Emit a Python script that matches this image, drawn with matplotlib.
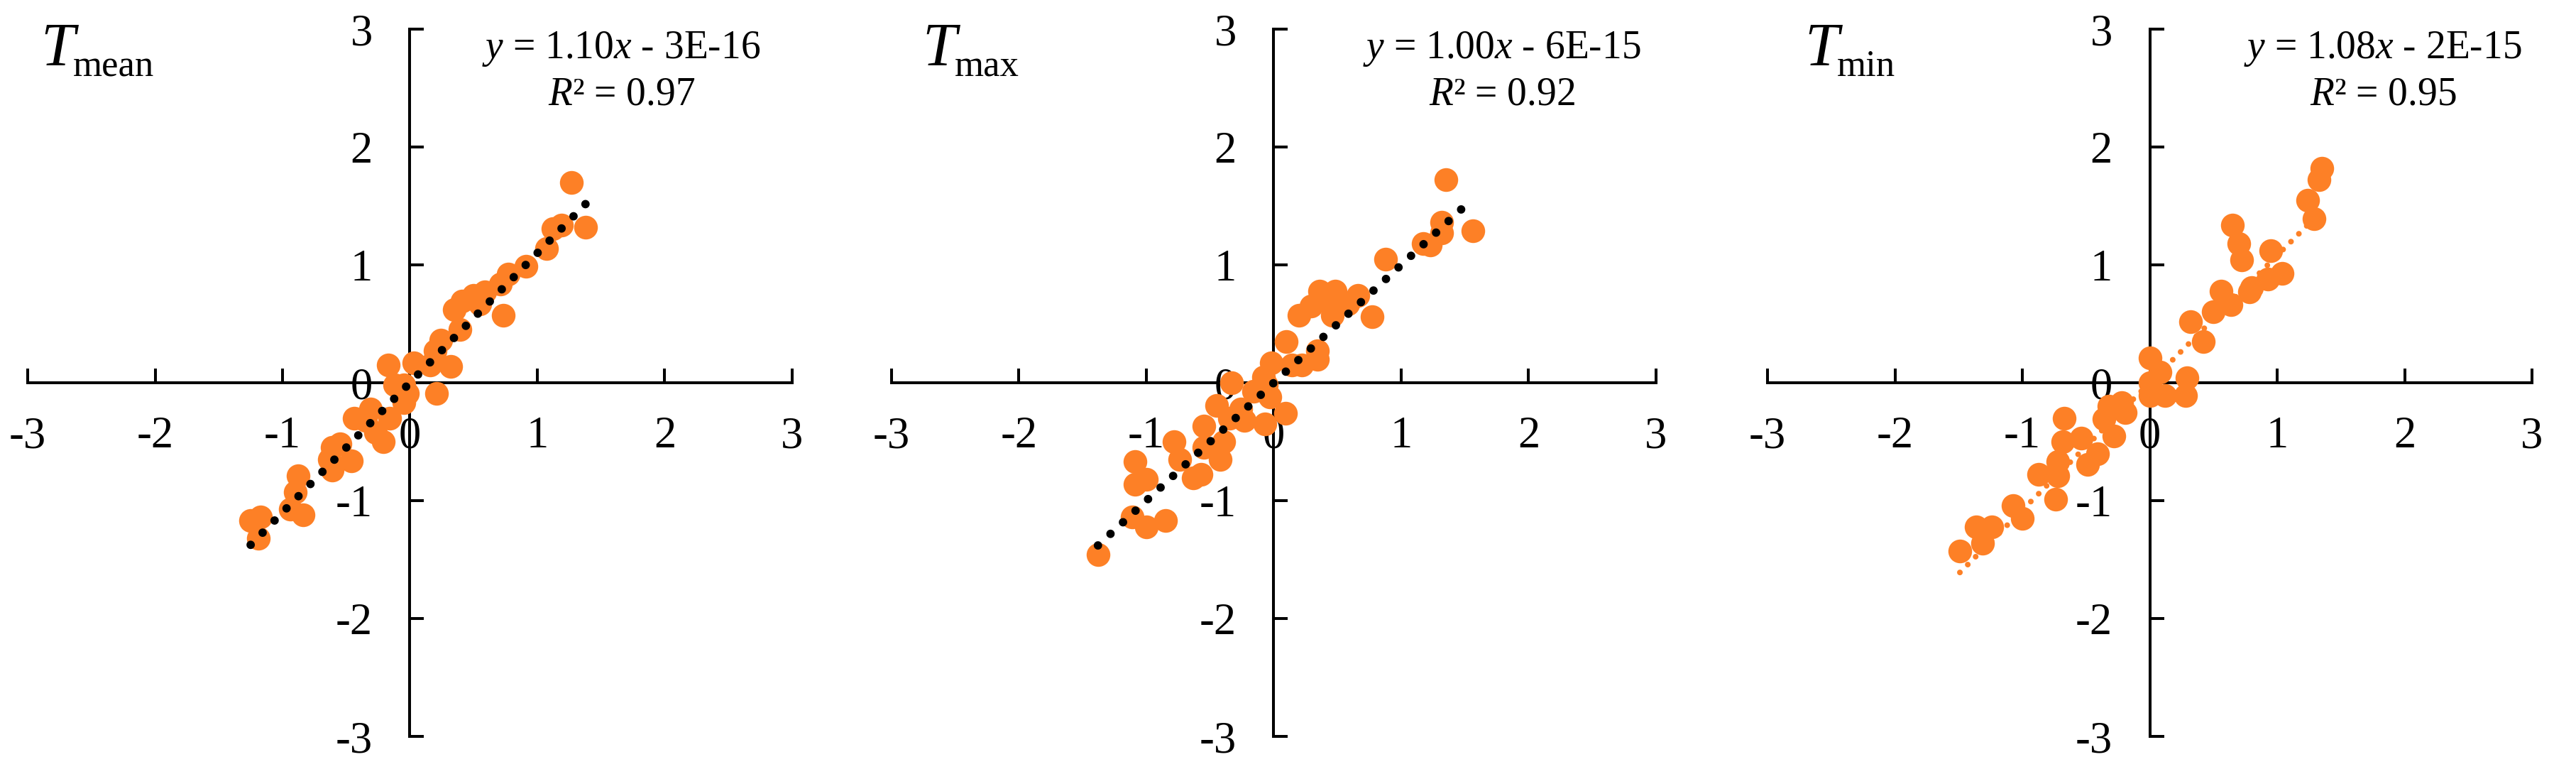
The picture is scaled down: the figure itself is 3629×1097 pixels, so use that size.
import matplotlib
matplotlib.use('Agg')
import matplotlib.pyplot as plt
import numpy as np

plt.rcParams['font.family'] = ['Liberation Serif', 'DejaVu Serif']
plt.rcParams['mathtext.fontset'] = 'custom'
plt.rcParams['mathtext.rm'] = 'Liberation Serif'
plt.rcParams['mathtext.it'] = 'Liberation Serif:italic'
plt.rcParams['lines.scale_dashes'] = False

# ---------------- data ----------------
subscripts = ['mean', 'max', 'min']
slopes = [1.10, 1.00, 1.08]
intercept_labels = ['3E-16', '6E-15', '2E-15']
r2_values = ['0.97', '0.92', '0.95']
ticks = [-3, -2, -1, 0, 1, 2, 3]

tmean_x = [1.27, 1.19, 1.38, 1.12, 1.07, 0.91, 0.77, 0.71, 0.59, 0.50, 0.41, 0.35,
           0.73, 0.55, 0.39, 0.24, 0.20, 0.32, 0.16, 0.03, -0.17, 0.21, -0.05, -0.02,
           -0.12, -0.05, -0.16, -0.31, -0.35, -0.44, -0.21, -0.27, -0.46, -0.55, -0.61,
           -0.63, -0.61, -0.88, -0.90, -0.94, -0.84, -1.25, -1.17, -1.19]
tmean_y = [1.70, 1.34, 1.32, 1.31, 1.14, 0.99, 0.92, 0.84, 0.77, 0.74, 0.69, 0.62,
           0.57, 0.67, 0.45, 0.36, 0.27, 0.14, 0.15, 0.17, 0.15, -0.09, -0.02, -0.09,
           -0.02, -0.17, -0.30, -0.22, -0.32, -0.30, -0.50, -0.42, -0.66, -0.52, -0.55,
           -0.65, -0.74, -0.79, -0.93, -1.07, -1.12, -1.17, -1.14, -1.32]

tmax_x = [1.35, 1.56, 1.32, 1.32, 1.23, 1.17, 0.88, 0.66, 0.77, 0.58, 0.48, 0.36,
          0.44, 0.29, 0.20, 0.46, 0.10, 0.34, 0.34, 0.22, -0.02, 0.14, -0.08, -0.06,
          -0.33, -0.16, -0.03, -0.45, -0.26, -0.35, -0.23, -0.07, 0.09, -0.55, -0.39,
          -0.55, -0.42, -0.78, -0.74, -0.63, -0.57, -1.09, -1.09, -1.00, -1.11, -1.00,
          -0.85, -1.38]
tmax_y = [1.72, 1.29, 1.36, 1.27, 1.17, 1.18, 1.05, 0.74, 0.56, 0.67, 0.78, 0.78,
          0.67, 0.65, 0.57, 0.57, 0.35, 0.27, 0.20, 0.15, 0.17, 0.15, 0.05, -0.02,
          0.00, -0.07, -0.12, -0.19, -0.22, -0.30, -0.32, -0.35, -0.26, -0.37, -0.50,
          -0.55, -0.65, -0.50, -0.65, -0.81, -0.78, -0.67, -0.86, -0.82, -1.14, -1.22,
          -1.17, -1.46]

tmin_x = [1.35, 1.33, 1.24, 1.29, 0.65, 0.70, 0.72, 0.95, 1.04, 0.93, 0.80, 0.78,
          0.56, 0.64, 0.50, 0.32, 0.42, 0.00, 0.08, 0.29, 0.00, 0.28, 0.12, 0.00,
          -0.22, -0.32, -0.19, -0.36, -0.28, -0.67, -0.54, -0.68, -0.41, -0.49, -0.72,
          -0.72, -0.87, -0.74, -1.07, -1.00, -1.24, -1.36, -1.31, -1.49]
tmin_y = [1.82, 1.72, 1.55, 1.39, 1.34, 1.18, 1.04, 1.12, 0.93, 0.88, 0.81, 0.77,
          0.78, 0.66, 0.60, 0.52, 0.35, 0.21, 0.09, 0.04, 0.00, -0.11, -0.11, -0.11,
          -0.17, -0.20, -0.25, -0.31, -0.45, -0.30, -0.47, -0.50, -0.60, -0.69, -0.67,
          -0.79, -0.78, -0.99, -1.04, -1.15, -1.22, -1.22, -1.36, -1.43]

series_x = [tmean_x, tmax_x, tmin_x]
series_y = [tmean_y, tmax_y, tmin_y]

# ---------------- layout / style ----------------
W, H = 3630, 1097
DPI = 100
orange = '#FD8026'
panel_left_px = [39, 1256, 2490]
panel_w_px = 1077
top_px, bottom_px = 41, 1037
eq_x = [1.66, 1.79, 1.83]
title_x = [-2.90, -2.76, -2.71]
trend_colors = ['black', 'black', orange]
trend_lw = [8.6, 8.6, 5.8]
trend_gap = [17.3, 17.3, 11.3]

fig = plt.figure(figsize=(W / DPI, H / DPI), dpi=DPI)

for i in range(3):
    ax = fig.add_axes([panel_left_px[i] / W, (H - bottom_px) / H,
                       panel_w_px / W, (bottom_px - top_px) / H])
    ax.set_xlim(-3, 3)
    ax.set_ylim(-3, 3)
    ax.patch.set_alpha(0)
    for s in ['top', 'right']:
        ax.spines[s].set_visible(False)
    for s in ['left', 'bottom']:
        ax.spines[s].set_position(('data', 0))
        ax.spines[s].set_linewidth(2.9)
    ax.set_xticks(ticks)
    ax.set_yticks(ticks)
    ax.set_xticklabels([str(t) for t in ticks])
    ax.set_yticklabels([str(t) for t in ticks])
    ax.tick_params(axis='both', direction='in', length=14.4, width=2.9,
                   labelsize=45)
    ax.tick_params(axis='x', pad=34)
    ax.tick_params(axis='y', pad=38)

    x = np.array(series_x[i])
    y = np.array(series_y[i])
    ax.scatter(x, y, s=580, color=orange, linewidths=0, zorder=3, clip_on=False)

    xx = np.array([x.min(), x.max()])
    ax.plot(xx, slopes[i] * xx, color=trend_colors[i], lw=trend_lw[i],
            linestyle=(0, (0.001, trend_gap[i])), dash_capstyle='round',
            zorder=4, clip_on=False)

    ax.text(eq_x[i], 2.83, r'$y$ = %.2f$x$ - %s' % (slopes[i], intercept_labels[i]),
            ha='center', va='center', fontsize=40)
    ax.text(eq_x[i], 2.44, r'$R$² = %s' % r2_values[i],
            ha='center', va='center', fontsize=40)
    # panel label: italic T with an upright subscript
    ax.text(title_x[i], 2.70, 'T', style='italic',
            ha='left', va='baseline', fontsize=62)
    ax.annotate(subscripts[i], xy=(title_x[i], 2.70), xycoords='data',
                xytext=(33, -12), textcoords='offset points',
                ha='left', va='baseline', fontsize=38)

fig.savefig('out.png', dpi=DPI)
